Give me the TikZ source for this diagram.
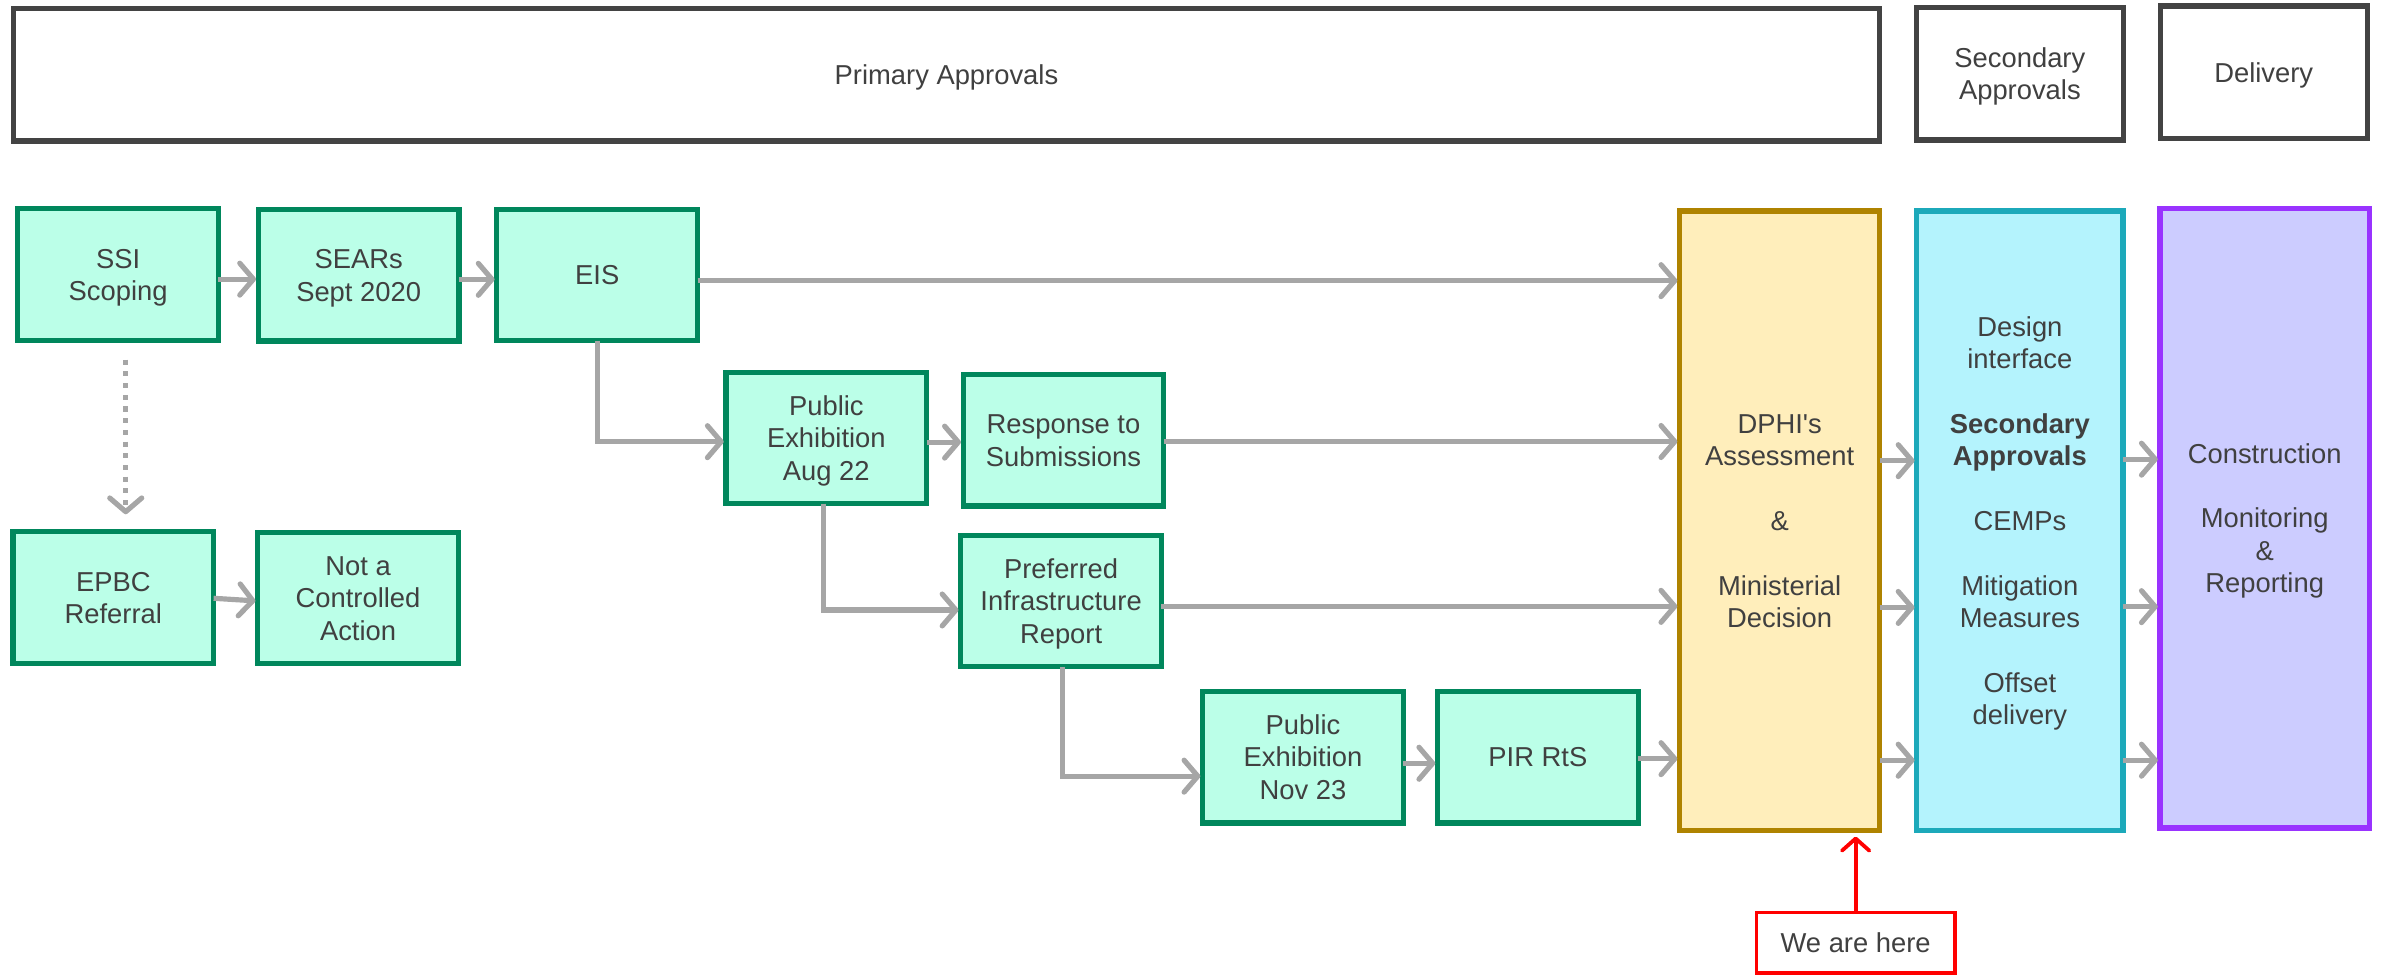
\documentclass[tikz,border=0pt]{standalone}
\usepackage{fontspec}
\setmainfont{Liberation Sans}[Ligatures=TeXOff]
\usetikzlibrary{arrows.meta}
\definecolor{txt}{HTML}{404040}
\definecolor{hdr}{HTML}{434343}
\definecolor{gfill}{HTML}{BBFFE8}
\definecolor{gline}{HTML}{00875C}
\definecolor{arr}{HTML}{A6A6A6}
\definecolor{yfill}{HTML}{FFEEBB}
\definecolor{yline}{HTML}{AF8300}
\definecolor{cfill}{HTML}{B4F3FD}
\definecolor{cline}{HTML}{1CA9BA}
\definecolor{pfill}{HTML}{CCCCFF}
\definecolor{pline}{HTML}{9933FF}
\definecolor{rline}{HTML}{FF0000}
\newcommand\sr{\rule[-4.1pt]{0pt}{21.1pt}}
\begin{document}
\begin{tikzpicture}[x=1pt,y=-1pt,
  every node/.style={font=\fontsize{18}{21.3}\selectfont, text=txt, align=center, inner sep=0pt, outer sep=0pt},
  base/.style={rectangle, line width=3.4pt},
  gbox/.style={base, draw=gline, fill=gfill, minimum width=132pt, minimum height=86.5pt},
  hbox/.style={base, draw=hdr, fill=white, minimum height=87pt},
  tallbox/.style={base, minimum height=407.5pt},
  flow/.style={draw=arr, line width=3.4pt, shorten >=1.5pt, -{Straight Barb[length=9pt,width=21pt,round]}},
  dotflow/.style={flow, dash pattern=on 3.3pt off 4.4pt},
  redflow/.style={draw=rline, line width=2.5pt, -{Straight Barb[length=8pt,width=18pt,round]}}
]
\useasboundingbox (0,0) rectangle (1568,642);

% headers
\node[hbox, minimum width=1227.6pt] (hprim) at (622.5,49.2) {\sr Primary Approvals};
\node[hbox, minimum width=136.4pt] (hsec) at (1328.5,48.6) {\sr Secondary\\\sr Approvals};
\node[hbox, minimum width=136.3pt] (hdel) at (1488.9,47.5) {\sr Delivery};

% green boxes
\node[gbox] (ssi) at (77.7,180.6) {\sr SSI\\\sr Scoping};
\node[gbox] (sears) at (235.9,181) {\sr SEARs\\\sr Sept 2020};
\node[gbox] (eis) at (392.8,180.8) {\sr EIS};
\node[gbox] (pubexa) at (543.5,288) {\sr Public\\\sr Exhibition\\\sr Aug 22};
\node[gbox] (rts) at (699.5,289.6) {\sr Response to\\\sr Submissions};
\node[gbox] (pir) at (697.9,395.2) {\sr Preferred\\\sr Infrastructure\\\sr Report};
\node[gbox] (nov) at (857,498) {\sr Public\\\sr Exhibition\\\sr Nov 23};
\node[gbox] (pirrts) at (1011.5,498) {\sr PIR RtS};
\node[gbox] (epbc) at (74.5,393) {\sr EPBC\\\sr Referral};
\node[gbox] (notca) at (235.5,393.3) {\sr Not a\\\sr Controlled\\\sr Action};

% tall boxes
\node[tallbox, draw=yline, fill=yfill, minimum width=131.6pt] (dphi) at (1170.5,342.5)
  {\sr DPHI's\\\sr Assessment\\[21.3pt]\sr\&\\[21.3pt]\sr Ministerial\\\sr Decision};
\node[tallbox, draw=cline, fill=cfill, minimum width=135.6pt] (sec) at (1328.5,342.5)
  {\sr Design\\\sr interface\\[21.3pt]\sr\textbf{Secondary}\\\sr\textbf{Approvals}\\[21.3pt]\sr CEMPs\\[21.3pt]\sr Mitigation\\\sr Measures\\[21.3pt]\sr Offset\\\sr delivery};
\node[tallbox, draw=pline, fill=pfill, minimum width=137.6pt] (del) at (1489.5,340.8)
  {\sr Construction\\[21.3pt]\sr Monitoring\\\sr\&\\\sr Reporting};

% we are here
\node[rectangle, draw=rline, line width=2.5pt, fill=white, minimum width=130.5pt, minimum height=40pt] (here) at (1220.5,620.2) {\sr We are here};

% connectors
\draw[flow] ([yshift=-3pt]ssi.east) -- ([yshift=-3pt]ssi.east -| sears.west);
\draw[flow] ([yshift=-2.7pt]sears.east) -- ([yshift=-2.7pt]sears.east -| eis.west);
\draw[flow] ([yshift=-3.8pt]eis.east) -- ([yshift=-3.8pt]eis.east -| dphi.west);
\draw[flow] (eis.south) |- ([yshift=-2.5pt]pubexa.west);
\draw[flow] ([yshift=-2.8pt]pubexa.east) -- ([yshift=-2.8pt]pubexa.east -| rts.west);
\draw[flow] ([yshift=-0.8pt]rts.east) -- ([yshift=-0.8pt]rts.east -| dphi.west);
\draw[flow] ([xshift=-2pt]pubexa.south) |- ([yshift=-6pt]pir.west);
\draw[flow] ([yshift=-3.6pt]pir.east) -- ([yshift=-3.6pt]pir.east -| dphi.west);
\draw[flow] ([xshift=1pt]pir.south) |- ([yshift=-12.5pt]nov.west);
\draw[flow] ([yshift=-4pt]nov.east) -- ([yshift=-4pt]nov.east -| pirrts.west);
\draw[flow] ([yshift=-1pt]pirrts.east) -- ([yshift=-1pt]pirrts.east -| dphi.west);
\foreach \s in {39.5,-57,-157.5}{
  \draw[flow] ([yshift=\s pt]dphi.east) -- ([yshift=\s pt]dphi.east -| sec.west);
}
\foreach \s in {40.5,-56.5,-157.5}{
  \draw[flow] ([yshift=\s pt]sec.east) -- ([yshift=\s pt]sec.east -| del.west);
}
\draw[dotflow, shorten <=12.7pt, shorten >=11.5pt] ([xshift=5pt]ssi.south) -- ([xshift=5pt]ssi.south |- epbc.north);
\draw[flow] ([yshift=-0.5pt]epbc.east) -- ([yshift=-2pt]notca.west);
\draw[redflow, shorten >=4pt] (here.north) -- (here.north |- dphi.south);
\end{tikzpicture}
\end{document}
